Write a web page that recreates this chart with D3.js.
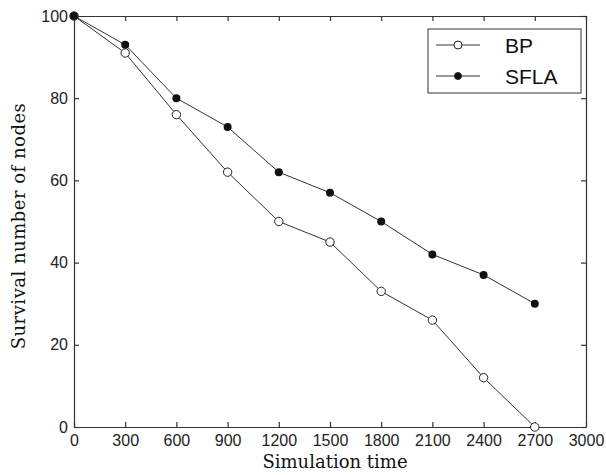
<!DOCTYPE html>
<html>
<head>
<meta charset="utf-8">
<script src="https://d3js.org/d3.v7.min.js"></script>
<style>
  body { margin: 0; background: #fff; }
  .tick text { font-family: "Liberation Sans", Arial, sans-serif; font-size: 16px; fill: #222; }
  .lbl { font-family: "DejaVu Serif", "Liberation Serif", serif; font-size: 18px; fill: #111; }
</style>
</head>
<body>
<script>
var times = [0, 300, 600, 900, 1200, 1500, 1800, 2100, 2400, 2700];
var bp = [100, 91, 76, 62, 50, 45, 33, 26, 12, 0];
var sfla = [100, 93, 80, 73, 62, 57, 50, 42, 37, 30];
var xTicks = [0, 300, 600, 900, 1200, 1500, 1800, 2100, 2400, 2700, 3000];
var yTicks = [0, 20, 40, 60, 80, 100];

var W = 606, H = 475;
var pL = 74, pT = 16, pR = 586, pB = 427;

var svg = d3.select("body").append("svg")
  .attr("width", W).attr("height", H);

var x = d3.scaleLinear().domain([0, 3000]).range([pL, pR]);
var y = d3.scaleLinear().domain([0, 100]).range([pB, pT]);

// axes, ticks pointing inward
var gx = svg.append("g").attr("transform", "translate(0," + pB + ")")
  .call(d3.axisBottom(x).tickValues(xTicks).tickFormat(d3.format("d")).tickSize(-5).tickPadding(10).tickSizeOuter(0));
var gy = svg.append("g").attr("transform", "translate(" + pL + ",0)")
  .call(d3.axisLeft(y).tickValues(yTicks).tickSize(-5).tickPadding(6).tickSizeOuter(0));
var gt = svg.append("g").attr("transform", "translate(0," + pT + ")")
  .call(d3.axisTop(x).tickValues(xTicks).tickSize(-5).tickFormat("").tickSizeOuter(0));
var gr = svg.append("g").attr("transform", "translate(" + pR + ",0)")
  .call(d3.axisRight(y).tickValues(yTicks).tickSize(-5).tickFormat("").tickSizeOuter(0));
[gx, gy, gt, gr].forEach(function (g) {
  g.selectAll("path, line").attr("stroke", "#333").attr("stroke-width", 1.2);
});
gx.selectAll("text").attr("dy", "0.55em");

// lines
var line = d3.line()
  .x(function (d, i) { return x(times[i]); })
  .y(function (d) { return y(d); });

svg.append("path").datum(bp).attr("d", line)
  .attr("fill", "none").attr("stroke", "#333").attr("stroke-width", 1);
svg.append("path").datum(sfla).attr("d", line)
  .attr("fill", "none").attr("stroke", "#333").attr("stroke-width", 1);

svg.selectAll(".bp").data(bp).enter().append("circle")
  .attr("cx", function (d, i) { return x(times[i]); })
  .attr("cy", function (d) { return y(d); })
  .attr("r", 4.2).attr("fill", "#fff").attr("stroke", "#222").attr("stroke-width", 1);
svg.selectAll(".sf").data(sfla).enter().append("circle")
  .attr("cx", function (d, i) { return x(times[i]); })
  .attr("cy", function (d) { return y(d); })
  .attr("r", 4).attr("fill", "#111");

// axis labels
svg.append("text").attr("class", "lbl")
  .attr("x", 335).attr("y", 468)
  .attr("text-anchor", "middle").text("Simulation time");
svg.append("text").attr("class", "lbl")
  .attr("transform", "translate(25,226) rotate(-90)")
  .style("letter-spacing", "0.5px")
  .attr("text-anchor", "middle").text("Survival number of nodes");

// legend
var lg = svg.append("g");
lg.append("rect").attr("x", 428).attr("y", 29).attr("width", 153).attr("height", 64)
  .attr("fill", "#fff").attr("stroke", "#333").attr("stroke-width", 1);
var names = ["BP", "SFLA"];
names.forEach(function (n, i) {
  var yy = 45 + i * 31;
  lg.append("line").attr("x1", 436).attr("x2", 480).attr("y1", yy).attr("y2", yy)
    .attr("stroke", "#333");
  lg.append("circle").attr("cx", 458).attr("cy", yy).attr("r", i ? 3.5 : 4)
    .attr("fill", i ? "#111" : "#fff").attr("stroke", "#222");
  lg.append("text").attr("x", 505).attr("y", yy + 8)
    .style("font-family", "Liberation Sans, Arial, sans-serif").style("font-size", "21px")
    .attr("fill", "#111").text(n);
});
</script>
</body>
</html>
